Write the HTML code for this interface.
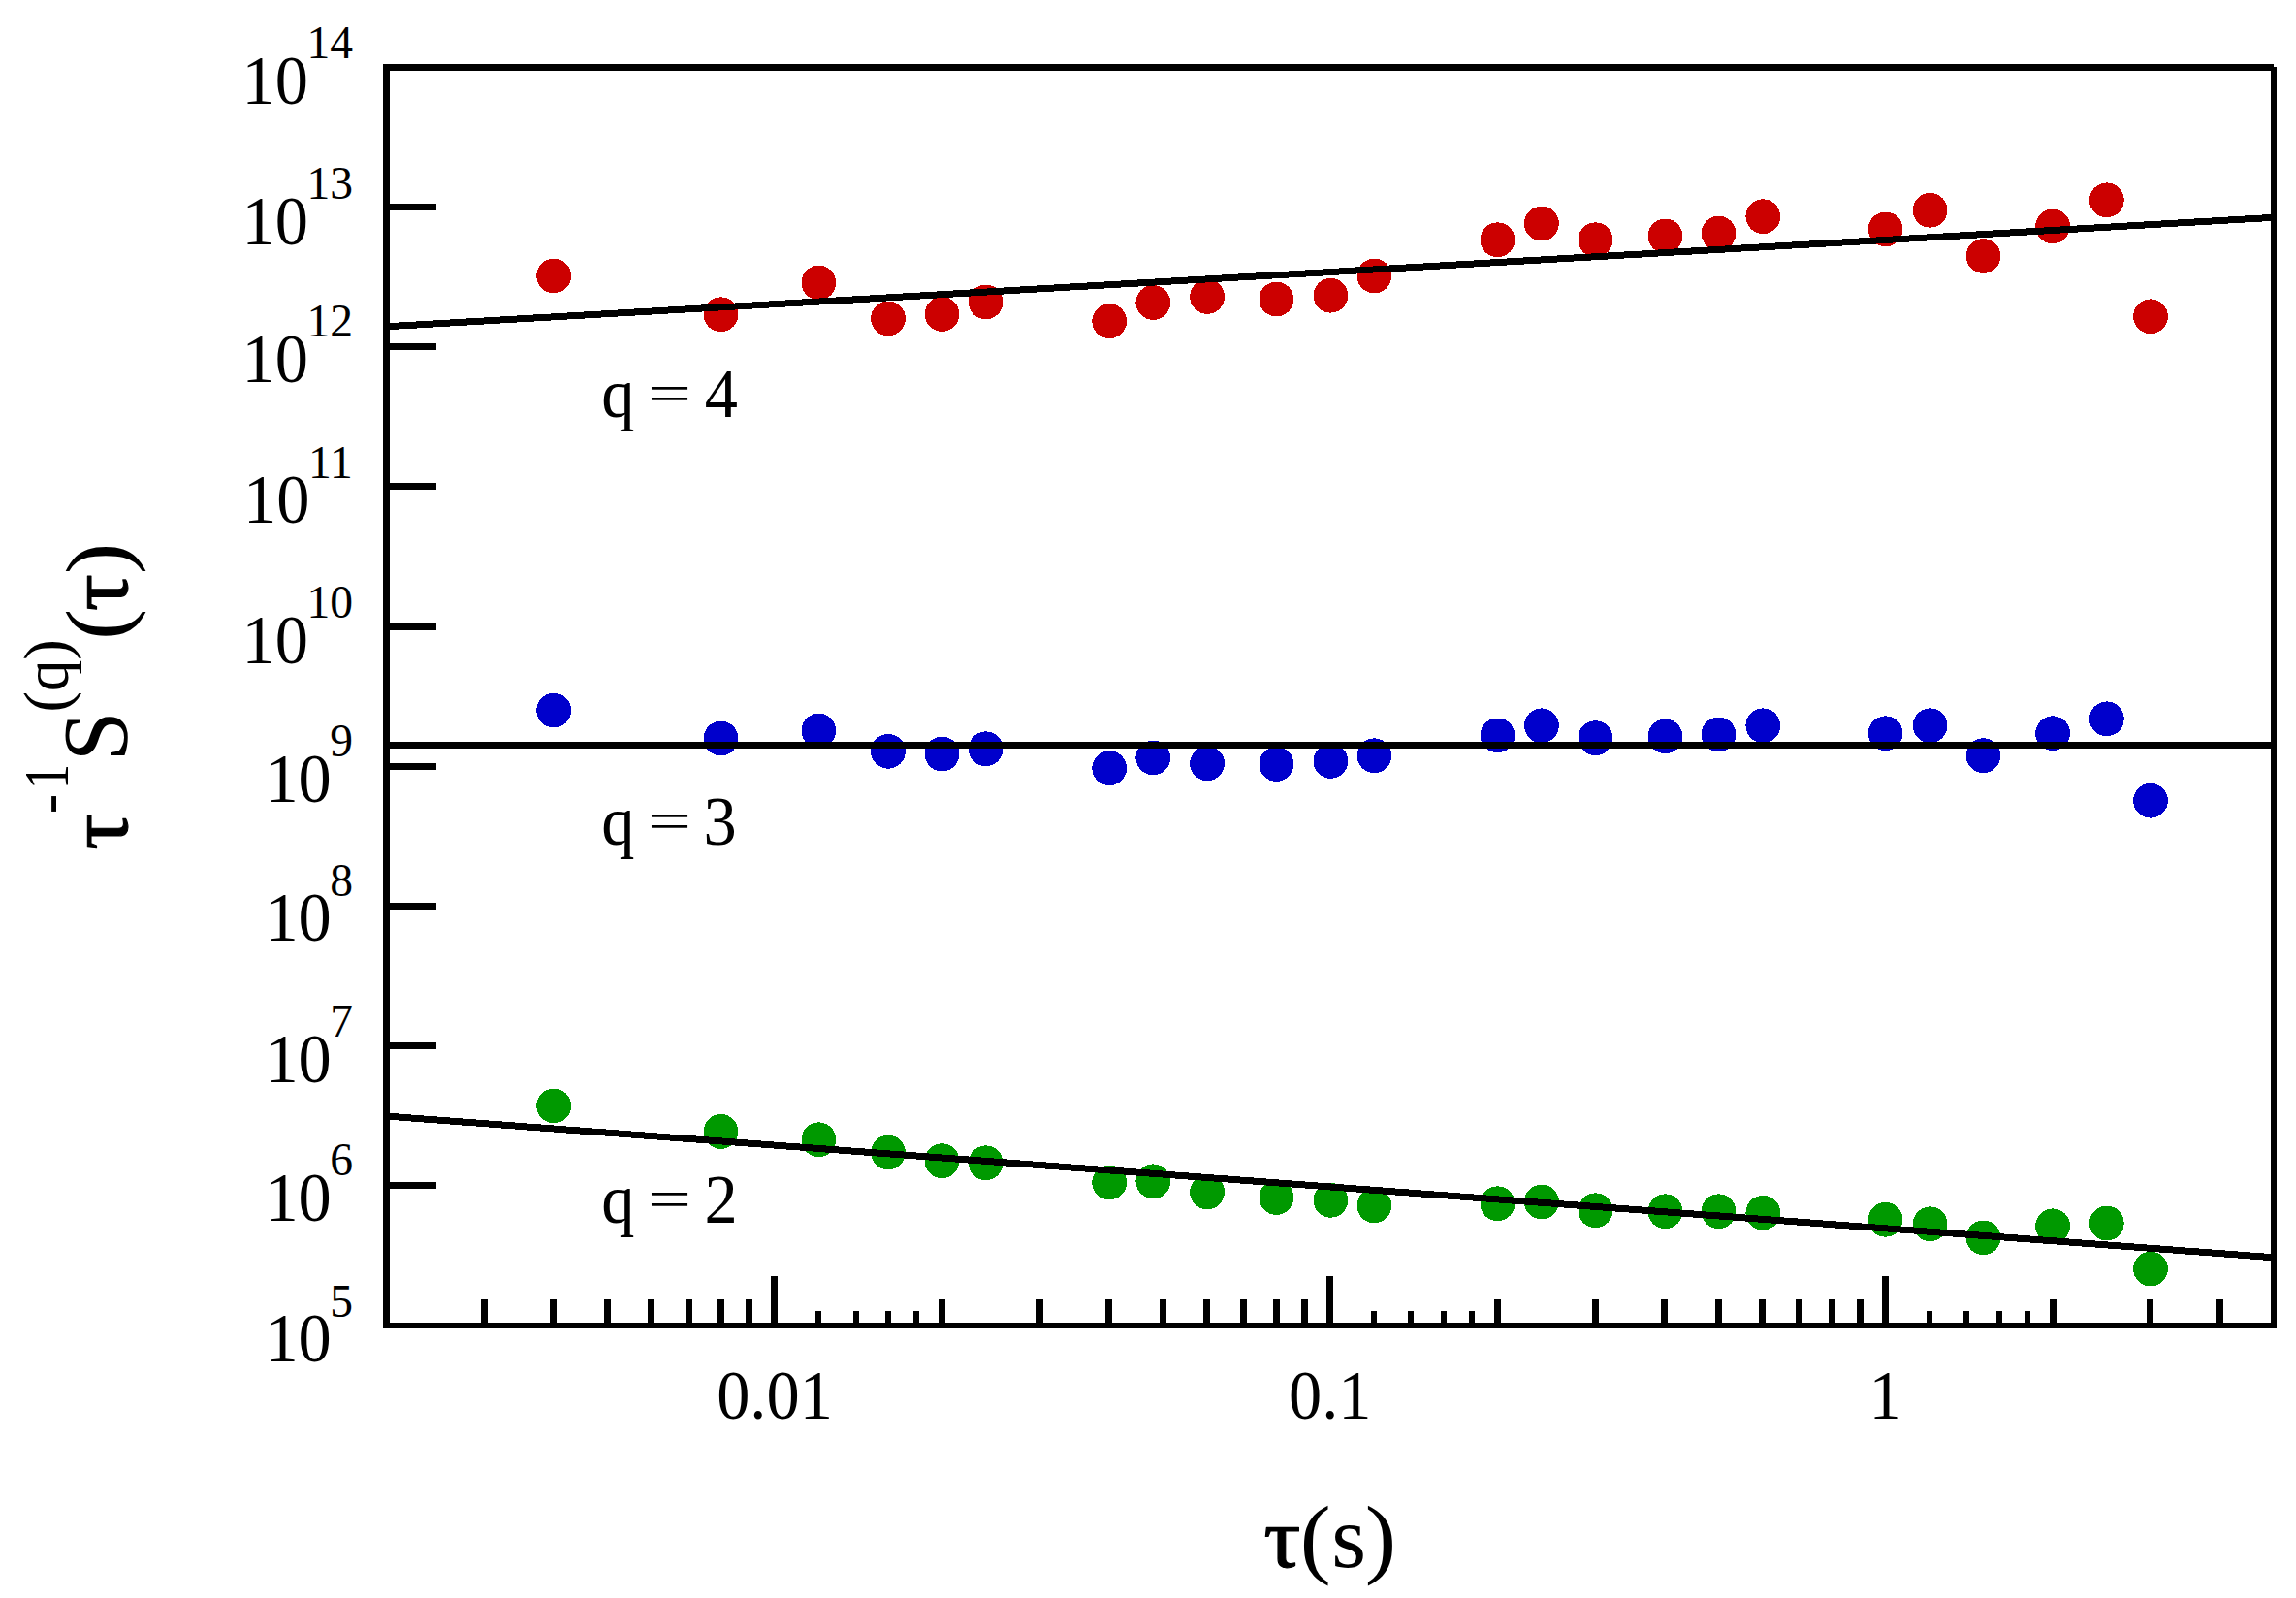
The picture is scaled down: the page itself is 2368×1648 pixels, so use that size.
<!DOCTYPE html>
<html lang="en"><head><meta charset="utf-8"><title>Scaled structure functions</title>
<style>html,body{margin:0;padding:0;background:#fff}body{width:2368px;height:1648px;overflow:hidden}svg{display:block}text{font-family:"Liberation Serif",serif;fill:#000}</style></head><body>
<svg width="2368" height="1648" viewBox="0 0 2368 1648">
<rect id="bg" x="0" y="0" width="2368" height="1648" fill="#fff"/>
<g id="series-q4" fill="#cc0000" shape-rendering="crispEdges">
<circle cx="571.2" cy="284.5" r="17.9"/><circle cx="743.5" cy="324.3" r="17.9"/><circle cx="844.4" cy="291.5" r="17.9"/><circle cx="916.0" cy="328.4" r="17.9"/><circle cx="971.5" cy="323.9" r="17.9"/><circle cx="1016.6" cy="311.4" r="17.9"/><circle cx="1144.2" cy="331.2" r="17.9"/><circle cx="1189.3" cy="312.0" r="17.9"/><circle cx="1245.1" cy="305.9" r="17.9"/><circle cx="1316.4" cy="308.5" r="17.9"/><circle cx="1372.4" cy="304.7" r="17.9"/><circle cx="1417.4" cy="284.5" r="17.9"/><circle cx="1544.5" cy="247.3" r="17.9"/><circle cx="1589.9" cy="230.5" r="17.9"/><circle cx="1645.5" cy="247.3" r="17.9"/><circle cx="1717.5" cy="243.4" r="17.9"/><circle cx="1772.5" cy="240.6" r="17.9"/><circle cx="1818.3" cy="223.2" r="17.9"/><circle cx="1944.6" cy="236.4" r="17.9"/><circle cx="1990.6" cy="216.8" r="17.9"/><circle cx="2045.5" cy="264.1" r="17.9"/><circle cx="2117.1" cy="233.4" r="17.9"/><circle cx="2172.8" cy="206.3" r="17.9"/><circle cx="2218.0" cy="326.3" r="17.9"/>
</g>
<g id="series-q3" fill="#0000cc" shape-rendering="crispEdges">
<circle cx="571.2" cy="732.6" r="17.9"/><circle cx="743.5" cy="761.5" r="17.9"/><circle cx="844.4" cy="753.5" r="17.9"/><circle cx="916.0" cy="774.8" r="17.9"/><circle cx="971.5" cy="777.6" r="17.9"/><circle cx="1016.6" cy="772.3" r="17.9"/><circle cx="1144.2" cy="792.2" r="17.9"/><circle cx="1189.3" cy="781.4" r="17.9"/><circle cx="1245.1" cy="787.3" r="17.9"/><circle cx="1316.4" cy="788.0" r="17.9"/><circle cx="1372.4" cy="784.9" r="17.9"/><circle cx="1417.4" cy="779.3" r="17.9"/><circle cx="1544.5" cy="758.4" r="17.9"/><circle cx="1589.9" cy="748.3" r="17.9"/><circle cx="1645.5" cy="761.2" r="17.9"/><circle cx="1717.5" cy="759.4" r="17.9"/><circle cx="1772.5" cy="757.4" r="17.9"/><circle cx="1818.3" cy="748.3" r="17.9"/><circle cx="1944.6" cy="756.3" r="17.9"/><circle cx="1990.6" cy="748.3" r="17.9"/><circle cx="2045.5" cy="779.2" r="17.9"/><circle cx="2117.1" cy="756.2" r="17.9"/><circle cx="2172.8" cy="741.3" r="17.9"/><circle cx="2218.0" cy="825.7" r="17.9"/>
</g>
<g id="series-q2" fill="#009900" shape-rendering="crispEdges">
<circle cx="571.2" cy="1140.4" r="17.9"/><circle cx="743.5" cy="1166.9" r="17.9"/><circle cx="844.4" cy="1175.3" r="17.9"/><circle cx="916.0" cy="1188.5" r="17.9"/><circle cx="971.5" cy="1197.2" r="17.9"/><circle cx="1016.6" cy="1199.3" r="17.9"/><circle cx="1144.2" cy="1219.4" r="17.9"/><circle cx="1189.3" cy="1218.3" r="17.9"/><circle cx="1245.1" cy="1229.4" r="17.9"/><circle cx="1316.4" cy="1235.0" r="17.9"/><circle cx="1372.4" cy="1237.8" r="17.9"/><circle cx="1417.4" cy="1243.4" r="17.9"/><circle cx="1544.5" cy="1241.3" r="17.9"/><circle cx="1589.9" cy="1239.5" r="17.9"/><circle cx="1645.5" cy="1248.3" r="17.9"/><circle cx="1717.5" cy="1249.3" r="17.9"/><circle cx="1772.5" cy="1249.3" r="17.9"/><circle cx="1818.3" cy="1250.7" r="17.9"/><circle cx="1944.6" cy="1257.8" r="17.9"/><circle cx="1990.6" cy="1262.3" r="17.9"/><circle cx="2045.5" cy="1276.4" r="17.9"/><circle cx="2117.1" cy="1264.3" r="17.9"/><circle cx="2172.8" cy="1261.5" r="17.9"/><circle cx="2218.0" cy="1308.6" r="17.9"/>
</g>
<g id="fit-lines" stroke="#000" stroke-width="7" fill="none" shape-rendering="crispEdges">
<line x1="398.5" y1="336.8" x2="2345.0" y2="224.3"/>
<line x1="398.5" y1="768.5" x2="2345.0" y2="768.5"/>
<line x1="398.5" y1="1151.1" x2="2345.0" y2="1296.8"/>
</g>
<g id="axes" fill="#000" shape-rendering="crispEdges">
<path id="frame" d="M395 66h1950v7h-1950zM395 1364h1953v6h-1953zM395 66h7v1304h-7zM2342 69h6v1301h-6z"/>
<path id="y-ticks" d="M402 1219h48v7h-48zM402 1075h48v7h-48zM402 931h48v7h-48zM402 787h48v7h-48zM402 643h48v7h-48zM402 498h48v7h-48zM402 354h48v7h-48zM402 210h48v7h-48z"/>
<path id="x-ticks" d="M496 1340h7v24h-7zM567 1340h7v24h-7zM623 1340h7v24h-7zM668 1340h7v24h-7zM707 1340h7v24h-7zM740 1340h7v24h-7zM769 1340h7v24h-7zM795 1316h7v48h-7zM968 1340h7v24h-7zM1069 1340h7v24h-7zM1140 1340h7v24h-7zM1196 1340h7v24h-7zM1241 1340h7v24h-7zM1279 1340h7v24h-7zM1313 1340h7v24h-7zM1342 1340h7v24h-7zM841 1352h6v12h-6zM880 1352h6v12h-6zM913 1352h6v12h-6zM942 1352h6v12h-6zM1368 1316h7v48h-7zM1541 1340h7v24h-7zM1642 1340h7v24h-7zM1713 1340h7v24h-7zM1769 1340h7v24h-7zM1814 1340h7v24h-7zM1852 1340h7v24h-7zM1886 1340h7v24h-7zM1915 1340h7v24h-7zM1414 1352h6v12h-6zM1452 1352h6v12h-6zM1486 1352h6v12h-6zM1515 1352h6v12h-6zM1941 1316h7v48h-7zM2114 1340h7v24h-7zM2214 1340h7v24h-7zM2286 1340h7v24h-7zM1987 1352h6v12h-6zM2025 1352h6v12h-6zM2059 1352h6v12h-6zM2088 1352h6v12h-6z"/>
</g>
<g id="y-tick-labels">
<g id="ylab-e14"><text transform="translate(249.60 106.80) scale(0.9500 1)" font-size="72.00">10</text><text transform="translate(316.40 60.40)" font-size="47.60">14</text></g>
<g id="ylab-e13"><text transform="translate(249.60 251.80) scale(0.9500 1)" font-size="72.00">10</text><text transform="translate(316.40 205.40)" font-size="47.60">13</text></g>
<g id="ylab-e12"><text transform="translate(249.60 393.60) scale(0.9500 1)" font-size="72.00">10</text><text transform="translate(316.40 347.20)" font-size="47.60">12</text></g>
<g id="ylab-e11"><text transform="translate(251.10 538.90) scale(0.9500 1)" font-size="72.00">10</text><text transform="translate(317.90 492.50)" font-size="47.60">11</text></g>
<g id="ylab-e10"><text transform="translate(249.60 683.60) scale(0.9500 1)" font-size="72.00">10</text><text transform="translate(316.40 637.20)" font-size="47.60">10</text></g>
<g id="ylab-e9"><text transform="translate(273.40 826.80) scale(0.9500 1)" font-size="72.00">10</text><text transform="translate(340.20 780.40)" font-size="47.60">9</text></g>
<g id="ylab-e8"><text transform="translate(273.40 970.40) scale(0.9500 1)" font-size="72.00">10</text><text transform="translate(340.20 924.00)" font-size="47.60">8</text></g>
<g id="ylab-e7"><text transform="translate(273.40 1115.80) scale(0.9500 1)" font-size="72.00">10</text><text transform="translate(340.20 1069.40)" font-size="47.60">7</text></g>
<g id="ylab-e6"><text transform="translate(273.40 1258.80) scale(0.9500 1)" font-size="72.00">10</text><text transform="translate(340.20 1212.40)" font-size="47.60">6</text></g>
<g id="ylab-e5"><text transform="translate(273.40 1404.00) scale(0.9500 1)" font-size="72.00">10</text><text transform="translate(340.20 1357.60)" font-size="47.60">5</text></g>
</g>
<g id="x-tick-labels">
<text transform="translate(739.15 1462.50) scale(0.9500 1)" font-size="72.00">0.01</text>
<text transform="translate(1329.05 1462.50) scale(0.9500 1)" font-size="72.00">0.1</text>
<text transform="translate(1927.45 1462.50) scale(0.9500 1)" font-size="72.00">1</text>
</g>
<g id="label-q4"><text transform="translate(620.33 430.00) scale(0.9500 1)" font-size="72.00">q </text><text transform="translate(667.93 424.40) scale(1.4450 1)" font-size="55.20">= </text><text transform="translate(726.66 430.00) scale(0.9500 1)" font-size="72.00">4</text></g>
<g id="label-q3"><text transform="translate(620.33 871.00) scale(0.9500 1)" font-size="72.00">q </text><text transform="translate(667.93 865.40) scale(1.4450 1)" font-size="55.20">= </text><text transform="translate(725.43 871.00) scale(0.9500 1)" font-size="72.00">3</text></g>
<g id="label-q2"><text transform="translate(620.33 1261.00) scale(0.9500 1)" font-size="72.00">q </text><text transform="translate(667.93 1255.40) scale(1.4450 1)" font-size="55.20">= </text><text transform="translate(726.49 1261.00) scale(0.9500 1)" font-size="72.00">2</text></g>
<g id="x-title"><text transform="translate(1303.36 1615.60) scale(1.0700 1)" font-size="89.00" stroke="#000" stroke-width="1.10" stroke-linejoin="round">τ</text><text transform="translate(1340.70 1616.30) scale(1.0400 1)" font-size="92.00">(</text><text transform="translate(1373.23 1616.30)" font-size="92.00">s</text><text transform="translate(1407.86 1616.30) scale(1.0600 1)" font-size="92.00">)</text></g>
<g id="y-title"><text transform="translate(130.90 876.74) rotate(-90) scale(1.0700 1)" font-size="89.00" stroke="#000" stroke-width="1.10" stroke-linejoin="round">τ</text><text transform="translate(70.80 839.28) rotate(-90) scale(0.9300 1)" font-size="66.00">-</text><text transform="translate(70.00 814.14) rotate(-90) scale(0.8000 1)" font-size="66.00">1</text><text transform="translate(131.30 785.33) rotate(-90) scale(0.9750 1)" font-size="95.50">S</text><text transform="translate(70.00 734.54) rotate(-90) scale(0.9800 1)" font-size="66.00">(q)</text><text transform="translate(131.30 659.95) rotate(-90) scale(1.0500 1)" font-size="92.00">(</text><text transform="translate(130.90 630.34) rotate(-90) scale(1.0700 1)" font-size="89.00" stroke="#000" stroke-width="1.10" stroke-linejoin="round">τ</text><text transform="translate(131.30 592.14) rotate(-90) scale(1.0600 1)" font-size="92.00">)</text></g>
</svg></body></html>
